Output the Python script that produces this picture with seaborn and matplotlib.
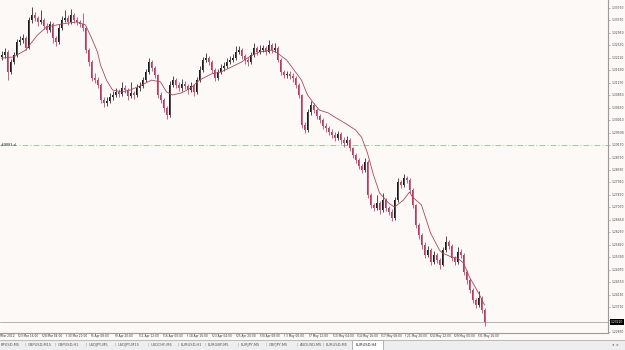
import numpy as np
import pandas as pd
import matplotlib
matplotlib.use("Agg")
import matplotlib.pyplot as plt
import seaborn as sns
from matplotlib.transforms import blended_transform_factory as btf
from matplotlib.patches import Rectangle

# ---------------- data (EURUSD H4) ----------------
opens = [
    1.3214,1.3221,1.3231,1.3163,1.3197,1.3221,1.3264,1.3271,1.3278,1.3244,
    1.3339,1.3355,1.3345,1.3332,1.3339,1.3318,1.3305,1.3325,1.3278,1.3264,
    1.3312,1.3339,1.3345,1.3332,1.3355,1.3339,1.3332,1.3325,1.3312,1.3237,
    1.3197,1.3143,1.3136,1.3120,1.3069,1.3059,1.3066,1.3079,1.3086,1.3096,
    1.3089,1.3109,1.3103,1.3082,1.3093,1.3086,1.3109,1.3116,1.3136,1.3163,
    1.3197,1.3177,1.3153,1.3086,1.3069,1.3042,1.3018,1.3120,1.3136,1.3120,
    1.3109,1.3123,1.3116,1.3103,1.3116,1.3096,1.3136,1.3170,1.3204,1.3210,
    1.3197,1.3170,1.3143,1.3163,1.3177,1.3184,1.3197,1.3204,1.3210,1.3231,
    1.3237,1.3217,1.3204,1.3197,1.3221,1.3244,1.3231,1.3237,1.3244,1.3231,
    1.3254,1.3237,1.3244,1.3204,1.3163,1.3153,1.3157,1.3150,1.3143,1.3120,
    1.3086,1.2985,1.2968,1.3028,1.3052,1.3035,1.3015,1.3002,1.2981,1.2975,
    1.2961,1.2951,1.2941,1.2954,1.2934,1.2924,1.2934,1.2907,1.2884,1.2867,
    1.2847,1.2833,1.2860,1.2749,1.2715,1.2705,1.2722,1.2698,1.2732,1.2705,
    1.2692,1.2671,1.2732,1.2793,1.2783,1.2806,1.2799,1.2766,1.2715,1.2648,
    1.2614,1.2580,1.2547,1.2563,1.2523,1.2547,1.2530,1.2513,1.2563,1.2590,
    1.2577,1.2536,1.2523,1.2557,1.2547,1.2489,1.2462,1.2429,1.2395,1.2378,
    1.2402,1.2361,
]
closes = [
    1.3221,1.3231,1.3163,1.3197,1.3221,1.3264,1.3271,1.3278,1.3244,1.3339,
    1.3355,1.3345,1.3332,1.3339,1.3318,1.3305,1.3325,1.3278,1.3264,1.3312,
    1.3339,1.3345,1.3332,1.3355,1.3339,1.3332,1.3325,1.3312,1.3237,1.3197,
    1.3143,1.3136,1.3120,1.3069,1.3059,1.3066,1.3079,1.3086,1.3096,1.3089,
    1.3109,1.3103,1.3082,1.3093,1.3086,1.3109,1.3116,1.3136,1.3163,1.3197,
    1.3177,1.3153,1.3086,1.3069,1.3042,1.3018,1.3120,1.3136,1.3120,1.3109,
    1.3123,1.3116,1.3103,1.3116,1.3096,1.3136,1.3170,1.3204,1.3210,1.3197,
    1.3170,1.3143,1.3163,1.3177,1.3184,1.3197,1.3204,1.3210,1.3231,1.3237,
    1.3217,1.3204,1.3197,1.3221,1.3244,1.3231,1.3237,1.3244,1.3231,1.3254,
    1.3237,1.3244,1.3204,1.3163,1.3153,1.3157,1.3150,1.3143,1.3120,1.3086,
    1.2985,1.2968,1.3028,1.3052,1.3035,1.3015,1.3002,1.2981,1.2975,1.2961,
    1.2951,1.2941,1.2954,1.2934,1.2924,1.2934,1.2907,1.2884,1.2867,1.2847,
    1.2833,1.2860,1.2749,1.2715,1.2705,1.2722,1.2698,1.2732,1.2705,1.2692,
    1.2671,1.2732,1.2793,1.2783,1.2806,1.2799,1.2766,1.2715,1.2648,1.2614,
    1.2580,1.2547,1.2563,1.2523,1.2547,1.2530,1.2513,1.2563,1.2590,1.2577,
    1.2536,1.2523,1.2557,1.2547,1.2489,1.2462,1.2429,1.2395,1.2378,1.2402,
    1.2361,1.2321,
]
highs = [
    1.3234,1.3245,1.3238,1.3208,1.3232,1.3276,1.3285,1.3290,1.3286,1.3350,
    1.3381,1.3366,1.3352,1.3372,1.3345,1.3330,1.3336,1.3331,1.3285,1.3324,
    1.3352,1.3372,1.3356,1.3375,1.3362,1.3348,1.3340,1.3362,1.3318,1.3245,
    1.3203,1.3160,1.3148,1.3126,1.3080,1.3078,1.3092,1.3100,1.3110,1.3105,
    1.3130,1.3118,1.3110,1.3128,1.3100,1.3122,1.3130,1.3148,1.3175,1.3212,
    1.3205,1.3184,1.3158,1.3095,1.3076,1.3050,1.3132,1.3150,1.3144,1.3128,
    1.3140,1.3132,1.3124,1.3130,1.3122,1.3146,1.3182,1.3215,1.3226,1.3218,
    1.3203,1.3176,1.3174,1.3190,1.3198,1.3210,1.3218,1.3224,1.3252,1.3250,
    1.3245,1.3224,1.3214,1.3232,1.3262,1.3250,1.3254,1.3256,1.3250,1.3272,
    1.3262,1.3260,1.3250,1.3210,1.3170,1.3168,1.3166,1.3160,1.3150,1.3126,
    1.3090,1.2995,1.3040,1.3066,1.3058,1.3042,1.3022,1.3010,1.2992,1.2982,
    1.2970,1.2960,1.2966,1.2960,1.2944,1.2946,1.2940,1.2912,1.2892,1.2875,
    1.2855,1.2872,1.2866,1.2756,1.2722,1.2750,1.2730,1.2755,1.2740,1.2712,
    1.2700,1.2742,1.2805,1.2800,1.2820,1.2814,1.2806,1.2772,1.2720,1.2655,
    1.2620,1.2590,1.2578,1.2570,1.2560,1.2554,1.2536,1.2575,1.2612,1.2598,
    1.2584,1.2544,1.2575,1.2566,1.2554,1.2496,1.2470,1.2436,1.2402,1.2425,
    1.2410,1.2368,
]
lows = [
    1.3205,1.3212,1.3138,1.3155,1.3190,1.3214,1.3255,1.3262,1.3236,1.3240,
    1.3330,1.3334,1.3320,1.3326,1.3308,1.3294,1.3299,1.3262,1.3251,1.3258,
    1.3305,1.3333,1.3322,1.3326,1.3330,1.3322,1.3314,1.3303,1.3228,1.3185,
    1.3132,1.3125,1.3108,1.3058,1.3045,1.3050,1.3060,1.3070,1.3080,1.3078,
    1.3082,1.3094,1.3070,1.3076,1.3074,1.3080,1.3100,1.3108,1.3128,1.3158,
    1.3168,1.3144,1.3075,1.3058,1.3030,1.3006,1.3012,1.3112,1.3110,1.3098,
    1.3100,1.3106,1.3090,1.3096,1.3082,1.3090,1.3130,1.3164,1.3196,1.3186,
    1.3160,1.3132,1.3136,1.3156,1.3168,1.3176,1.3190,1.3196,1.3204,1.3224,
    1.3206,1.3190,1.3185,1.3190,1.3214,1.3222,1.3224,1.3230,1.3220,1.3226,
    1.3228,1.3230,1.3196,1.3152,1.3142,1.3144,1.3140,1.3130,1.3110,1.3076,
    1.2975,1.2958,1.2962,1.3020,1.3024,1.3004,1.2990,1.2970,1.2962,1.2950,
    1.2940,1.2930,1.2934,1.2922,1.2912,1.2916,1.2896,1.2872,1.2856,1.2836,
    1.2822,1.2826,1.2740,1.2704,1.2694,1.2698,1.2686,1.2692,1.2694,1.2680,
    1.2662,1.2665,1.2726,1.2774,1.2776,1.2788,1.2756,1.2704,1.2638,1.2602,
    1.2568,1.2536,1.2540,1.2512,1.2515,1.2520,1.2500,1.2508,1.2556,1.2566,
    1.2526,1.2512,1.2518,1.2536,1.2478,1.2450,1.2418,1.2384,1.2368,1.2372,
    1.2350,1.2308,
]
# moving average indicator, sampled along its path (bar index, price)
ma_idx = [0, 4, 8, 12, 15, 20, 25, 28, 30, 32, 33, 35, 37, 40, 43, 46, 50, 53, 55, 57,
          60, 63, 66, 70, 73, 76, 80, 83, 86, 90, 92, 95, 97, 100, 102, 104, 106, 109,
          111, 115, 118, 120, 122, 124, 126, 129, 131, 134, 136, 137, 140, 143, 146,
          147, 150, 152, 154, 156, 159, 161]
ma_val = [1.3210, 1.3214, 1.3237, 1.3288, 1.3315, 1.3325, 1.3332, 1.3322, 1.3278, 1.3231,
          1.3187, 1.3136, 1.3103, 1.3096, 1.3103, 1.3116, 1.3136, 1.3130, 1.3096, 1.3086,
          1.3093, 1.3109, 1.3136, 1.3157, 1.3163, 1.3177, 1.3197, 1.3217, 1.3231, 1.3237,
          1.3227, 1.3204, 1.3177, 1.3136, 1.3086, 1.3059, 1.3035, 1.3025, 1.3012, 1.2988,
          1.2968, 1.2944, 1.2890, 1.2816, 1.2756, 1.2722, 1.2708, 1.2732, 1.2759, 1.2742,
          1.2715, 1.2621, 1.2563, 1.2553, 1.2540, 1.2536, 1.2520, 1.2472, 1.2419, 1.2378]

price_levels = [1.33790, 1.33370, 1.32950, 1.32530, 1.32110, 1.31690, 1.31270, 1.30850,
                1.30430, 1.30010, 1.29590, 1.29170, 1.28750, 1.28330, 1.27910, 1.27490,
                1.27070, 1.26650, 1.26230, 1.25810, 1.25390, 1.24970, 1.24550, 1.24130,
                1.23710, 1.23290, 1.22870]
bid_price = 1.2321
order_price = 1.2917
order_label = "#9883 sl"

date_labels = ["Mar 2012", "23 Mar 16:00", "28 Mar 04:00", "30 Mar 20:00", "5 Apr 08:00",
               "9 Apr 20:00", "11 Apr 12:00", "16 Apr 00:00", "18 Apr 16:00", "23 Apr 04:00",
               "25 Apr 20:00", "30 Apr 08:00", "3 May 00:00", "7 May 12:00", "10 May 04:00",
               "14 May 16:00", "17 May 08:00", "21 May 20:00", "24 May 12:00", "29 May 00:00",
               "31 May 16:00"]
date_pos = [-0.5] + [5.5 + 8.07 * k for k in range(20)]

tab_labels = ["BPUSD,M5", "GBPUSD,M15", "GBPUSD,H1", "USDJPY,M5", "USDJPY,M15", "USDCHF,M5",
              "EURUSD,H1", "EURGBP,M5", "EURJPY,M5", "GBPJPY,M5", "AUDUSD,M5", "EURUSD,M5",
              "EURUSD,H4"]
tab_pos = [1, 28, 58, 89, 118, 151, 181, 208, 241, 269, 300, 326, 356]

# ---------------- style ----------------
BG = "#fdf9f7"
BULL = "#1a1a1a"
BEAR = "#b83a62"
MA_C = "#a84a5a"

sns.set_style("white")
plt.rcParams["font.family"] = ["DejaVu Sans"]

df = pd.DataFrame({"open": opens, "high": highs, "low": lows, "close": closes})
df["idx"] = np.arange(len(df))
df["up"] = df["close"] >= df["open"]
df["bottom"] = df[["open", "close"]].min(axis=1)
df["height"] = (df["close"] - df["open"]).abs().clip(lower=0.00025)
colors = np.where(df["up"], BULL, BEAR)

fig = plt.figure(figsize=(6.25, 3.5), dpi=100, facecolor=BG)
ax = fig.add_axes([0, 17 / 350, 608 / 625, 333 / 350])
ax.set_facecolor(BG)

y_top = 1.3406
y_bot = 1.3406 - 333 * 0.000337
ax.set_ylim(y_bot, y_top)
ax.set_xlim(-0.5, 608 / 3 - 0.5)

# order line and bid line
ax.axhline(order_price, color="#8fbf8f", lw=0.6, linestyle=(0, (7, 2.5, 1.2, 2.5)), zorder=1)
ax.axhline(bid_price, color="#a8a8a8", lw=0.6, zorder=1)

# candles
ax.vlines(df["idx"], df["low"], df["high"], colors=colors, lw=0.55, zorder=2)
ax.bar(df["idx"], df["height"], bottom=df["bottom"], width=0.55, color=colors,
       linewidth=0, zorder=3)

# moving average
sns.lineplot(x=ma_idx, y=ma_val, ax=ax, color=MA_C, lw=0.6, zorder=4, legend=False)

ax.set_xticks([])
ax.set_yticks([])
ax.set_xlabel("")
ax.set_ylabel("")
for s in ["top", "left"]:
    ax.spines[s].set_visible(False)
for s in ["right", "bottom"]:
    ax.spines[s].set_color("#9a9a9a")
    ax.spines[s].set_linewidth(0.8)

# order label
ax.text(0.002, order_price, order_label, transform=btf(ax.transAxes, ax.transData),
        fontsize=2.4, color="#222222", va="center", ha="left")

# right price scale
tr = btf(ax.transAxes, ax.transData)
for v in price_levels:
    ax.plot([1.0, 1.004], [v, v], transform=tr, clip_on=False, color="#888888", lw=0.4)
    if abs(v - bid_price) < 0.0015:
        continue  # hidden behind the bid price box
    ax.text(1.0055, v, f"{v:.5f}", transform=tr, fontsize=2.2, color="#444444",
            va="center", ha="left", clip_on=False)
ax.text(1.0045, bid_price, f"{bid_price:.5f}", transform=tr, fontsize=2.2, color="white",
        va="center", ha="left", clip_on=False,
        bbox=dict(facecolor="black", edgecolor="none", pad=0.6))

# date scale
tr2 = btf(ax.transData, ax.transAxes)
for lab, p in zip(date_labels, date_pos):
    ax.plot([p, p], [0, -0.01], transform=tr2, clip_on=False, color="#777777", lw=0.4)
    ax.text(p + 0.4, -0.004, lab, transform=tr2, fontsize=2.1, color="#333333",
            va="top", ha="left", clip_on=False)

# tab bar
tab = fig.add_axes([0, 0, 1, 10 / 350])
tab.set_facecolor("#eeeeee")
tab.set_xlim(0, 625)
tab.set_ylim(0, 10)
tab.set_xticks([])
tab.set_yticks([])
for s in tab.spines.values():
    s.set_visible(False)
tab.axhline(9.8, color="#b0b0b0", lw=0.6)
tab.add_patch(Rectangle((352, 0.5), 31, 9.3, facecolor="white", edgecolor="#999999", lw=0.5))
for i, (lab, p) in enumerate(zip(tab_labels, tab_pos)):
    tab.text(p, 5, lab, fontsize=2.6, color="#555555" if i < len(tab_labels) - 1 else "#222222",
             va="center", ha="left")
    if 0 < i < len(tab_labels) - 1:
        tab.text(p - 3, 5, "|", fontsize=3, color="#999999", va="center", ha="center")
tab.text(612, 5, "◂  ▸", fontsize=3, color="#777777", va="center", ha="left")

fig.savefig("out.png", dpi=100, facecolor=BG)
